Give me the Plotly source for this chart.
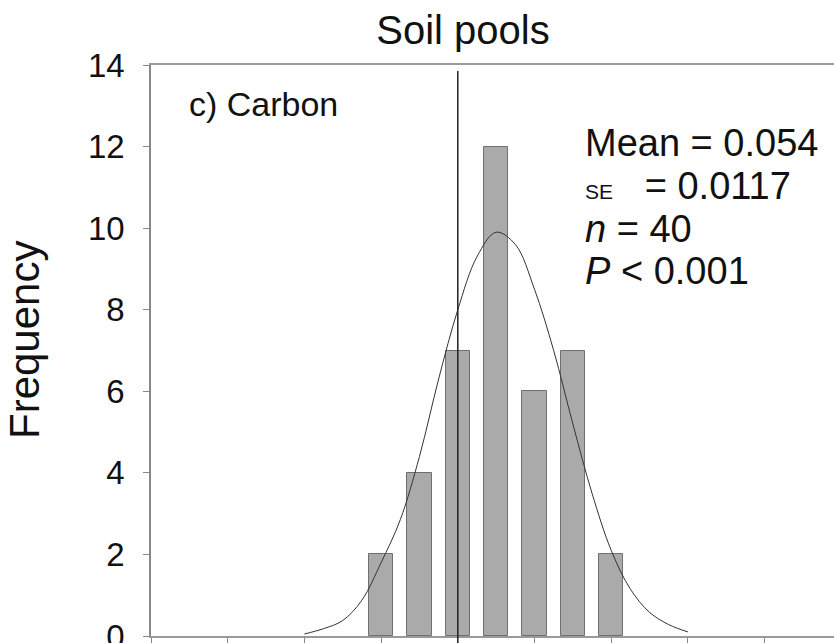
import plotly.graph_objects as go

# Histogram bins (effect size) and frequencies
bin_centers = [-0.10, -0.05, 0.00, 0.05, 0.10, 0.15, 0.20]
frequencies = [2, 4, 7, 12, 6, 7, 2]

# Fitted normal curve
curve_x = [-0.200, -0.175, -0.150, -0.125, -0.100, -0.075, -0.050, -0.025, 0.000,
           0.025, 0.050, 0.075, 0.100, 0.125, 0.150, 0.175, 0.200, 0.225, 0.250,
           0.275, 0.300]
curve_y = [0.05, 0.18, 0.38, 0.88, 1.8, 2.85, 4.4, 6.3, 8.0,
           9.3, 9.9, 9.6, 8.5, 7.0, 5.2, 3.5, 2.1, 1.15, 0.58,
           0.28, 0.1]

x_ticks = [-0.4, -0.3, -0.2, -0.1, 0.0, 0.1, 0.2, 0.3, 0.4, 0.5]
y_ticks = [0, 2, 4, 6, 8, 10, 12, 14]

FONT = "Liberation Sans, Arial, sans-serif"
W, H = 834, 643
L, T, B = 151, 65, 7
PW, PH = W - L, H - T - B

fig = go.Figure()
fig.add_trace(go.Bar(
    x=bin_centers, y=frequencies, width=0.032,
    marker=dict(color="#aaaaaa", line=dict(color="#6f6f6f", width=1)),
    showlegend=False, hoverinfo="skip",
))
fig.add_trace(go.Scatter(
    x=curve_x, y=curve_y, mode="lines",
    line=dict(color="#333333", width=1, shape="spline", smoothing=1.0),
    showlegend=False, hoverinfo="skip",
))

# zero reference line
fig.add_shape(type="line", xref="x", yref="paper", x0=0, x1=0,
              y0=-0.02, y1=(636 - 71) / PH, line=dict(color="#222222", width=1.5))

def px_x(p):
    return (p - L) / PW

def px_y(p):
    return (H - B - p) / PH

annos = [
    dict(text="c) Carbon", x=px_x(187), y=px_y(104), size=34),
    dict(text="Mean = 0.054", x=px_x(583), y=px_y(143), size=38),
    dict(text="<span style='font-size:21px'>SE</span>   = 0.0117", x=px_x(583), y=px_y(186), size=38),
    dict(text="<i>n</i> = 40", x=px_x(583), y=px_y(229), size=38),
    dict(text="<i>P</i> < 0.001", x=px_x(583), y=px_y(271), size=38),
]
for a in annos:
    fig.add_annotation(text=a["text"], x=a["x"], y=a["y"], xref="paper", yref="paper",
                       xanchor="left", yanchor="middle", showarrow=False,
                       font=dict(family=FONT, size=a["size"], color="#111111"))

fig.add_annotation(text="Frequency", x=px_x(24), y=px_y(340), xref="paper", yref="paper",
                   xanchor="center", yanchor="middle", textangle=-90, showarrow=False,
                   font=dict(family=FONT, size=42, color="#111111"))

fig.update_layout(
    width=W, height=H,
    margin=dict(l=L, r=0, t=T, b=B, pad=0, autoexpand=False),
    paper_bgcolor="white", plot_bgcolor="white",
    bargap=0,
    title=dict(text="Soil pools", x=463 / W, xref="container", xanchor="center",
               y=1 - 30 / H, yref="container", yanchor="middle",
               font=dict(family=FONT, size=40, color="#111111")),
    font=dict(family=FONT, color="#111111"),
)
fig.update_xaxes(
    range=[-0.4, -0.4 + 0.1 * PW / 76.7], tickvals=x_ticks, showticklabels=False,
    ticks="outside", ticklen=6, tickcolor="#888888",
    showline=True, linecolor="#999999", linewidth=2, mirror=True,
    showgrid=False, zeroline=False, automargin=False,
)
fig.update_yaxes(
    range=[0, 14], tickvals=y_ticks, ticks="outside", ticklen=6, tickcolor="#888888",
    showline=True, linecolor="#888888", linewidth=1.5,
    showgrid=False, zeroline=False, ticklabelstandoff=12,
    ticklabeloverflow="allow", automargin=False,
    tickfont=dict(family=FONT, size=33, color="#111111"),
)
fig.write_html("out.html")
